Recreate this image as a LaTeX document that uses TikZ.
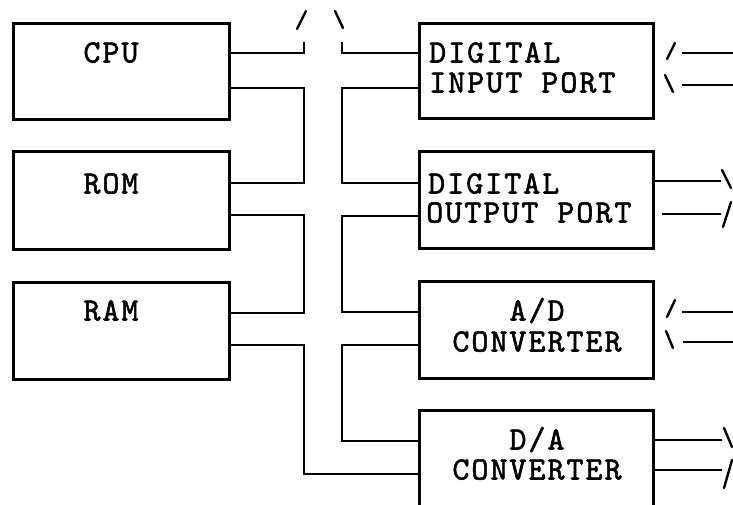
\documentclass[tikz,border=0pt]{standalone}
\usepackage{fontspec}
\newfontfamily\monofam{lmmono10-regular}[Extension=.otf,LetterSpace=6,FakeBold=1.6]
\begin{document}
\begin{tikzpicture}[x=1pt,y=-1pt,
  box/.style={draw,line width=2.8pt,minimum width=216pt,minimum height=96pt,inner sep=0pt,anchor=north west},
  rbox/.style={box,minimum width=234pt},
  lbl/.style={inner sep=0pt,font=\monofam\fontsize{32.5}{32}\selectfont,text height=19pt,text depth=0pt},
  wire/.style={line width=2.8pt,line cap=rect,line join=miter},
  tick/.style={line width=2.4pt,line cap=round}]
\useasboundingbox (0,0) rectangle (733,505);
% boxes
\node[box] (cpu) at (12,22) {};
\node[box,minimum height=98pt] (rom) at (12,150) {};
\node[box,minimum height=97pt] (ram) at (12,281) {};
\node[rbox,minimum height=95pt] (dip) at (418,22) {};
\node[rbox,minimum height=97pt] (dop) at (418,150) {};
\node[rbox,minimum height=97pt] (adc) at (418,280) {};
\node[rbox,minimum height=100pt] (dac) at (418,409) {};
% texts
\node[lbl] (tcpu) at (111,53) {CPU};
\node[lbl] (trom) at (111,184) {ROM};
\node[lbl] (tram) at (111,311) {RAM};
\node[lbl,anchor=west] (tdip1) at (429,53) {DIGITAL};
\node[lbl,anchor=west] (tdip2) at (429,83) {INPUT PORT};
\node[lbl,anchor=west] (tdop1) at (428,184) {DIGITAL};
\node[lbl,anchor=west] (tdop2) at (426,213) {OUTPUT PORT};
\node[lbl] (tadc1) at (537,311) {A/D};
\node[lbl] (tadc2) at (537,342) {CONVERTER};
\node[lbl] (tdac1) at (537,440) {D/A};
\node[lbl] (tdac2) at (537,470) {CONVERTER};
% bus coordinates
\coordinate (bl) at (304,0);
\coordinate (br) at (342,0);
% top stubs
\draw[wire] (cpu.east |- 0,53) -- (bl |- 0,53) -- (bl |- 0,43);
\draw[wire] (dip.west |- 0,53) -- (br |- 0,53) -- (br |- 0,43);
\draw[tick] (297,29) -- (306,11);
\draw[tick] (335,11) -- (343,28);
% left bus links
\draw[wire] (cpu.east |- 0,88) -- (bl |- 0,88) -- (bl |- 0,183) -- (rom.east |- 0,183);
\draw[wire] (rom.east |- 0,215) -- (bl |- 0,215) -- (bl |- 0,313) -- (ram.east |- 0,313);
\draw[wire] (ram.east |- 0,345) -- (bl |- 0,345) -- (bl |- 0,474) -- (dac.west |- 0,474);
% right bus links
\draw[wire] (dip.west |- 0,88) -- (br |- 0,88) -- (br |- 0,183) -- (dop.west |- 0,183);
\draw[wire] (dop.west |- 0,216) -- (br |- 0,216) -- (br |- 0,312) -- (adc.west |- 0,312);
\draw[wire] (adc.west |- 0,345) -- (br |- 0,345) -- (br |- 0,441) -- (dac.west |- 0,441);
% outside lines: digital input port
\coordinate (e1) at (733,53);
\coordinate (e2) at (733,85);
\draw[wire,line cap=butt] (682,53) -- (e1);
\draw[wire,line cap=butt] (682,85) -- (e2);
\draw[tick] (667,59) -- (675,43);
\draw[tick] (665,75) -- (673,92);
% digital output port
\coordinate (f1) at (721,181);
\coordinate (f2) at (721,214);
\draw[wire,line cap=butt] (dop.east |- f1) -- (f1);
\draw[wire,line cap=butt] (662,214) -- (f2);
\draw[tick] (722,170) -- (731,188);
\draw[tick] (723,227) -- (731,202);
% A/D
\coordinate (g1) at (733,312);
\coordinate (g2) at (733,342);
\draw[wire,line cap=butt] (682,312) -- (g1);
\draw[wire,line cap=butt] (683,342) -- (g2);
\draw[tick] (667,317) -- (675,300);
\draw[tick] (666,331) -- (673,348);
% D/A
\coordinate (h1) at (722,440);
\coordinate (h2) at (722,470);
\draw[wire,line cap=butt] (dac.east |- h1) -- (h1);
\draw[wire,line cap=butt] (dac.east |- h2) -- (h2);
\draw[tick] (724,428) -- (732,447);
\draw[tick] (724,488) -- (732,460);
\end{tikzpicture}
\end{document}
